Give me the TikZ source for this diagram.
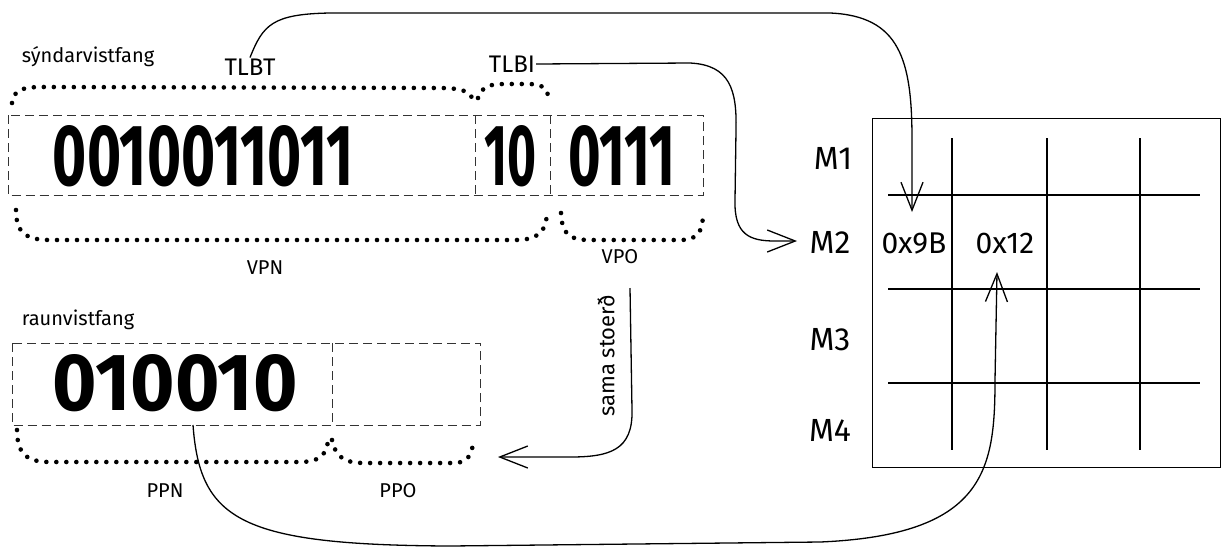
\documentclass[tikz,border=0pt]{standalone}
\usepackage{fontspec}
\setmainfont{Fira Sans}
\usetikzlibrary{arrows.meta}
\begin{document}
\begin{tikzpicture}[x=1pt,y=-1pt,
  seg/.style={inner sep=0pt, anchor=north west},
  dashbox/.style={draw=black!80, dash pattern=on 9pt off 5pt, line width=0.9pt},
  dotbrace/.style={line width=4.6pt, dash pattern=on 0pt off 10pt, line cap=round},
  conn/.style={line width=1.3pt, -{Straight Barb[length=28pt,width=22pt,line width=1.3pt]}},
  big/.style={inner sep=0pt, anchor=base},
  lbl/.style={inner sep=1pt, font=\fontsize{20}{20}\selectfont},
  tlbl/.style={inner sep=1pt, font=\fontsize{24}{24}\selectfont},
  mlbl/.style={inner sep=1pt, font=\fontsize{32}{32}\selectfont},
  cell/.style={inner sep=1pt, font=\fontsize{30}{30}\selectfont},
  gridline/.style={line width=1.3pt}]
\useasboundingbox[fill=white] (0,0) rectangle (1230,558);

% ---------- virtual address ----------
\node[lbl] (syn) at (88,57) {sýndarvistfang};
\node[seg, minimum width=467pt, minimum height=80pt] (vpn) at (8,115) {};
\node[seg, minimum width=75pt, minimum height=80pt] (tlbiseg) at (475,115) {};
\node[seg, minimum width=153pt, minimum height=80pt] (vpo) at (550,115) {};
\draw[dashbox] (vpn.north west) rectangle (vpo.south east);
\draw[dashbox] (vpn.north east) -- (vpn.south east);
\draw[dashbox] (vpo.north west) -- (vpo.south west);
\node[big] (d1) at (203,185) {\resizebox{300pt}{60pt}{\bfseries 0010011011}};
\node[big] (d2) at (510,185) {\resizebox{52pt}{60pt}{\bfseries 10}};
\node[big] (d3) at (622,185) {\resizebox{107pt}{60pt}{\bfseries 0111}};

\node[tlbl] (tlbt) at (250,67) {TLBT};
\node[tlbl] (tlbi) at (512,64) {TLBI};
\node[lbl] (vpnl) at (265,268) {VPN};
\node[lbl] (vpol) at (620,257) {VPO};

% braces
\draw[dotbrace] (12,103) .. controls (14,88) and (25,87) .. (45,87) -- (440,88) .. controls (462,88) and (470,92) .. (472,98);
\draw[dotbrace] (478,98) .. controls (482,86) and (490,84) .. (505,84) -- (528,84) .. controls (542,84) and (547,88) .. (548,96);
\draw[dotbrace] (16,210) .. controls (16,232) and (25,240) .. (50,240) -- (515,240) .. controls (538,240) and (547,232) .. (547,210);
\draw[dotbrace] (561,213) .. controls (562,235) and (570,240) .. (590,240) -- (680,240) .. controls (698,240) and (703,232) .. (703,212);

% ---------- physical address ----------
\node[lbl] (raun) at (78,320) {raunvistfang};
\node[seg, minimum width=320pt, minimum height=82pt] (ppn) at (12,343) {};
\node[seg, minimum width=148pt, minimum height=82pt] (ppo) at (332,343) {};
\draw[dashbox] (ppn.north west) rectangle (ppo.south east);
\draw[dashbox] (ppn.north east) -- (ppn.south east);
\node[big] (d4) at (175,410) {\resizebox{245pt}{56pt}{\bfseries 010010}};

\draw[dotbrace] (17,430) .. controls (17,455) and (28,462) .. (50,462) -- (300,462) .. controls (322,462) and (328,452) .. (328,438);
\draw[dotbrace] (332,440) .. controls (336,458) and (345,463) .. (365,463) -- (455,463) .. controls (470,462) and (473,452) .. (473,438);
\node[lbl] (ppnl) at (165,491) {PPN};
\node[lbl] (ppol) at (398,491) {PPO};

\node[lbl, rotate=90, font=\fontsize{22}{22}\selectfont] (sama) at (606,356) {sama stoerð};

% ---------- memory ----------
\node[seg, draw, gridline, minimum width=348pt, minimum height=349pt] (mem) at (872,118) {};
\draw[gridline] (888,195) -- (1200,195);
\draw[gridline] (888,289) -- (1200,289);
\draw[gridline] (888,383) -- (1200,383);
\draw[gridline] (952,138) -- (952,450);
\draw[gridline] (1047,138) -- (1047,450);
\draw[gridline] (1140,138) -- (1140,450);
\node[mlbl] (m1) at (833,158) {M1};
\node[mlbl] (m2) at (830,242) {M2};
\node[mlbl] (m3) at (830,340) {M3};
\node[mlbl] (m4) at (830,430) {M4};
\node[cell] (c9b) at (914,243) {0x9B};
\node[cell] (c12) at (1005,243) {0x12};

% ---------- connectors ----------
\coordinate (t1) at (912,212);
\coordinate (t2) at (797,241);
\coordinate (s3) at (630,288);
\coordinate (t3) at (498,457);
\coordinate (s4) at (193,425);
\coordinate (t4) at (997,272);

\draw[conn] (tlbt.north) .. controls (263,25) and (272,14) .. (330,13) -- (830,13) .. controls (900,16) and (912,60) .. (912,140) -- (t1);
\draw[conn] (tlbi.east) -- (690,63) .. controls (730,65) and (737,90) .. (736,130) -- (735,200) .. controls (734,235) and (750,241) .. (775,241) -- (t2);
\draw[conn] (s3) -- (632,410) .. controls (633,450) and (610,457) .. (570,457) -- (t3);
\draw[conn] (s4) .. controls (200,520) and (240,545) .. (450,546) -- (820,542) .. controls (985,535) and (995,470) .. (995,380) -- (t4);
\end{tikzpicture}
\end{document}
